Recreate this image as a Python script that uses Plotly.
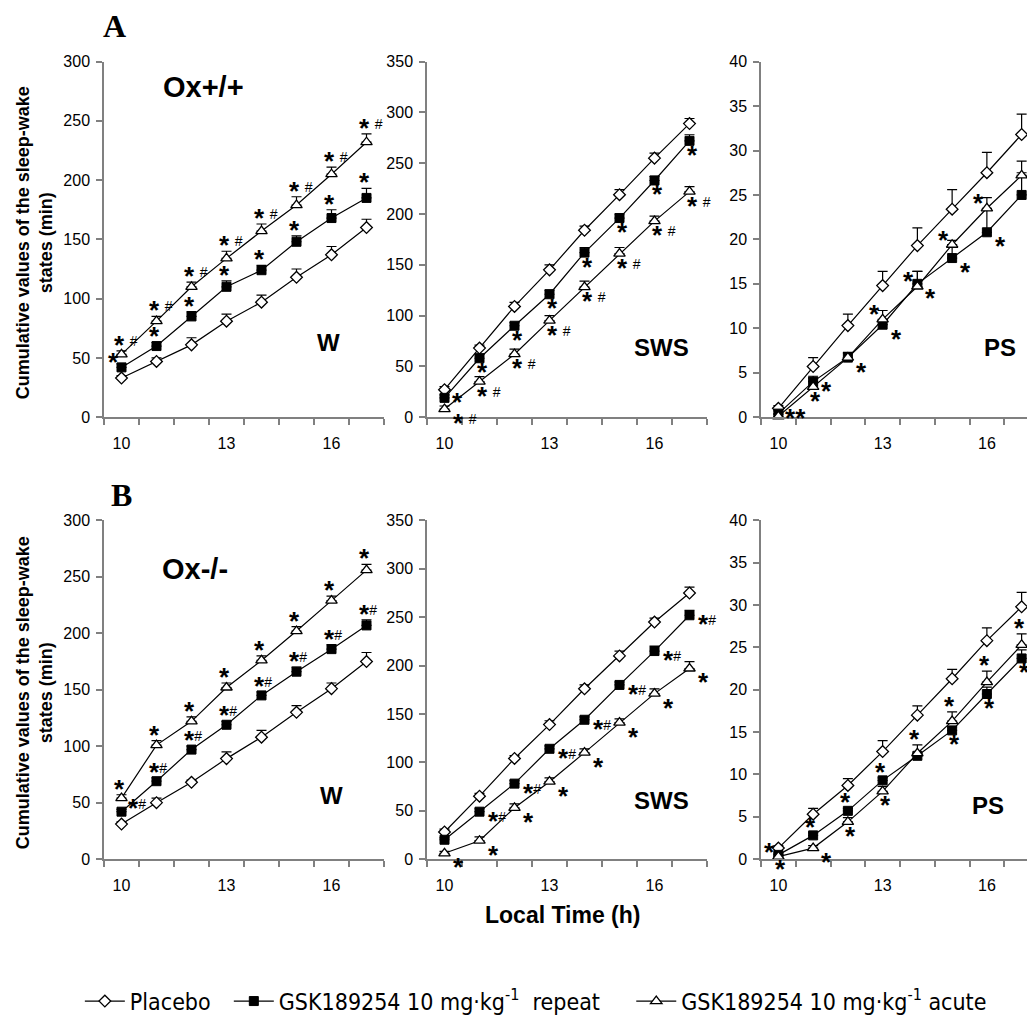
import plotly.graph_objects as go

# x categories (local time, h)
hours = [10, 11, 12, 13, 14, 15, 16, 17]
x_labels = [10, 13, 16]

# ---- A : Ox+/+ ----
a_w_placebo = [33, 47, 61, 81, 97, 118, 137, 160]
a_w_placebo_err = [2, 3, 6, 6, 6, 7, 7, 7]
a_w_repeat = [42, 60, 85, 110, 124, 148, 168, 185]
a_w_repeat_err = [3, 3, 4, 5, 4, 5, 7, 8]
a_w_acute = [53, 81, 110, 134, 157, 179, 205, 232]
a_w_acute_err = [3, 4, 4, 6, 6, 7, 6, 7]

a_sws_placebo = [27, 68, 109, 145, 184, 219, 255, 289]
a_sws_placebo_err = [3, 3, 4, 5, 4, 5, 5, 5]
a_sws_repeat = [19, 58, 90, 121, 162, 196, 233, 272]
a_sws_repeat_err = [3, 4, 3, 4, 5, 4, 4, 6]
a_sws_acute = [8, 35, 62, 95, 128, 161, 193, 222]
a_sws_acute_err = [3, 5, 5, 5, 6, 6, 5, 5]

a_ps_placebo = [1.0, 5.7, 10.3, 14.8, 19.3, 23.4, 27.5, 31.8]
a_ps_placebo_err = [0.3, 1.0, 1.3, 1.6, 2.0, 2.2, 2.3, 2.3]
a_ps_repeat = [0.4, 4.0, 6.7, 10.4, 15.0, 17.9, 20.8, 25.0]
a_ps_repeat_err = [0.3, 0.6, 0.6, 0.5, 1.4, 1.5, 2.6, 2.5]
a_ps_acute = [0.1, 3.4, 6.7, 11.0, 14.7, 19.4, 23.5, 27.2]
a_ps_acute_err = [0.2, 1.0, 0.5, 1.0, 1.7, 0.5, 1.2, 1.6]

# ---- B : Ox-/- ----
b_w_placebo = [31, 50, 68, 89, 108, 130, 151, 175]
b_w_placebo_err = [2, 4, 2, 6, 6, 6, 5, 8]
b_w_repeat = [42, 69, 97, 119, 145, 166, 186, 207]
b_w_repeat_err = [2, 3, 3, 3, 3, 4, 4, 5]
b_w_acute = [54, 101, 122, 152, 176, 202, 229, 256]
b_w_acute_err = [3, 4, 4, 4, 4, 4, 4, 5]

b_sws_placebo = [28, 65, 104, 139, 176, 210, 245, 275]
b_sws_placebo_err = [3, 3, 3, 4, 4, 5, 4, 6]
b_sws_repeat = [20, 49, 78, 114, 144, 180, 215, 252]
b_sws_repeat_err = [2, 3, 3, 3, 3, 3, 5, 5]
b_sws_acute = [6, 19, 53, 80, 110, 141, 171, 197]
b_sws_acute_err = [2, 4, 4, 4, 4, 4, 5, 7]

b_ps_placebo = [1.3, 5.3, 8.7, 12.7, 17.0, 21.3, 25.8, 29.8]
b_ps_placebo_err = [0.3, 0.7, 0.8, 1.3, 1.1, 1.1, 1.5, 1.7]
b_ps_repeat = [0.5, 2.8, 5.7, 9.3, 12.2, 15.2, 19.5, 23.7]
b_ps_repeat_err = [0.2, 0.3, 0.3, 0.3, 0.3, 0.4, 0.8, 1.0]
b_ps_acute = [0.3, 1.3, 4.4, 8.0, 12.5, 16.3, 20.9, 25.3]
b_ps_acute_err = [0.2, 0.3, 0.5, 0.6, 1.0, 1.1, 1.3, 1.3]

# significance marks (* vs placebo, # vs the other GSK group)
STAR = "<span style='font-size:26px'><b>*</b></span>"
SH = STAR + " <sup>#</sup>"
SB = STAR + "<sup>#</sup>"
S = STAR
SS = STAR + STAR
a_w_repeat_sig = [S] * 8
a_w_acute_sig = [SH] * 8
a_sws_repeat_sig = [S] * 8
a_sws_acute_sig = [SH] * 8
a_ps_repeat_sig = [SS, S, S, S, S, S, S, S]
a_ps_acute_sig = ["", S, "", S, S, S, S, S]
b_w_repeat_sig = [SB] * 8
b_w_acute_sig = [S] * 8
b_sws_repeat_sig = [""] + [SB] * 7
b_sws_acute_sig = [S] * 8
b_ps_repeat_sig = [S, S, S, S, "", S, S, S]
b_ps_acute_sig = [S] * 8

names = ["Placebo  ",
         "GSK189254 10 mg·kg<sup>-1</sup>  repeat    ",
         "GSK189254 10 mg·kg<sup>-1</sup> acute"]

W, H = 1035, 1015
FONT = "Liberation Sans, Arial, sans-serif"
AXC = "#808080"


def px(x):
    return x / W


def py(y):
    return 1 - y / H


# panel layout (pixel boxes measured on the original figure)
x_dom = [(96, 376), (419, 699), (753, 1031)]
y_dom = [(54, 412), (516, 857)]
y_top = [300, 350, 40]
y_step = [50, 50, 5]

panels = [
    (a_w_placebo, a_w_placebo_err, a_w_repeat, a_w_repeat_err, a_w_acute, a_w_acute_err),
    (a_sws_placebo, a_sws_placebo_err, a_sws_repeat, a_sws_repeat_err, a_sws_acute, a_sws_acute_err),
    (a_ps_placebo, a_ps_placebo_err, a_ps_repeat, a_ps_repeat_err, a_ps_acute, a_ps_acute_err),
    (b_w_placebo, b_w_placebo_err, b_w_repeat, b_w_repeat_err, b_w_acute, b_w_acute_err),
    (b_sws_placebo, b_sws_placebo_err, b_sws_repeat, b_sws_repeat_err, b_sws_acute, b_sws_acute_err),
    (b_ps_placebo, b_ps_placebo_err, b_ps_repeat, b_ps_repeat_err, b_ps_acute, b_ps_acute_err),
]

markers = [
    dict(symbol="diamond", size=9, color="white", line=dict(color="black", width=1.3)),
    dict(symbol="square", size=9, color="black", line=dict(color="black", width=1)),
    dict(symbol="triangle-up", size=10, color="white", line=dict(color="black", width=1.3)),
]

fig = go.Figure()

for p, vals in enumerate(panels):
    n = p + 1
    for s in range(3):
        y = vals[2 * s]
        e = vals[2 * s + 1]
        fig.add_trace(go.Scatter(
            x=hours, y=y, mode="lines+markers", name=names[s],
            line=dict(color="black", width=1.2),
            marker=markers[s],
            error_y=dict(type="data", symmetric=False, array=e, arrayminus=[0] * len(e),
                         color="black", thickness=1.2, width=5),
            cliponaxis=False,
            showlegend=(p == 0),
            xaxis="x" if n == 1 else f"x{n}", yaxis="y" if n == 1 else f"y{n}",
        ))

    col, row = p % 3, p // 3
    xa = dict(domain=[px(x_dom[col][0]), px(x_dom[col][1])],
              anchor="y" if n == 1 else f"y{n}",
              range=[9.5, 17.5], tickmode="array", tickvals=x_labels, ticks="",
              ticklabelstandoff=11,
              minor=dict(tickmode="array", tickvals=[h - 0.5 for h in hours] + [17.5],
                         ticks="outside", ticklen=6, tickcolor=AXC, tickwidth=1.5),
              showline=True, linecolor=AXC, linewidth=1.5, showgrid=False, zeroline=False,
              tickfont=dict(family=FONT, size=16, color="black"), automargin=False)
    ya = dict(domain=[py(y_dom[row][1]), py(y_dom[row][0])],
              anchor="x" if n == 1 else f"x{n}",
              range=[0, y_top[col]], dtick=y_step[col], tick0=0,
              ticks="outside", ticklen=6, tickcolor=AXC, tickwidth=1.5,
              ticklabelstandoff=3,
              showline=True, linecolor=AXC, linewidth=1.5, showgrid=False, zeroline=False,
              tickfont=dict(family=FONT, size=16, color="black"), automargin=False)
    fig.layout["xaxis" if n == 1 else f"xaxis{n}"] = xa
    fig.layout["yaxis" if n == 1 else f"yaxis{n}"] = ya

# star placement: (dx, dy) of the star centre in px from the anchor
# (anchor = top of the error bar when the flag is True, else the point itself)
PLACE = {
    "a": (-4, 8, True),
    "b": (1, -12, False),
    "r": (12, -7, False),
    "rr": (11, -2, False),
    "br": (12, -12, False),
    "l": (-10, 7, False),
    "ru": (10, 6, False),
}
stars = [
    (1, a_w_repeat, a_w_repeat_err, a_w_repeat_sig, ["l"] + ["a"] * 7),
    (1, a_w_acute, a_w_acute_err, a_w_acute_sig, ["a"] * 8),
    (2, a_sws_repeat, a_sws_repeat_err, a_sws_repeat_sig, ["rr"] + ["b"] * 7),
    (2, a_sws_acute, a_sws_acute_err, a_sws_acute_sig, ["br"] + ["b"] * 7),
    (3, a_ps_repeat, a_ps_repeat_err, a_ps_repeat_sig, ["rr", "r"] + ["br"] * 6),
    (3, a_ps_acute, a_ps_acute_err, a_ps_acute_sig, ["b", "b", "b", "l", "l", "l", "l", "rr"]),
    (4, b_w_repeat, b_w_repeat_err, b_w_repeat_sig, ["ru"] + ["a"] * 7),
    (4, b_w_acute, b_w_acute_err, b_w_acute_sig, ["a"] * 8),
    (5, b_sws_repeat, b_sws_repeat_err, b_sws_repeat_sig, ["r"] * 8),
    (5, b_sws_acute, b_sws_acute_err, b_sws_acute_sig, ["br"] * 8),
    (6, b_ps_repeat, b_ps_repeat_err, b_ps_repeat_sig, ["b", "a", "a", "a", "a", "b", "b", "b"]),
    (6, b_ps_acute, b_ps_acute_err, b_ps_acute_sig, ["l", "br", "b", "b", "a", "a", "a", "a"]),
]

annotations = []
for n, y, e, sig, where in stars:
    for i, t in enumerate(sig):
        if not t:
            continue
        dx, dy, top = PLACE[where[i]]
        annotations.append(dict(
            x=hours[i], y=y[i] + (e[i] if top else 0),
            xref="x" if n == 1 else f"x{n}", yref="y" if n == 1 else f"y{n}",
            text=t, showarrow=False, xanchor="left", yanchor="middle",
            xshift=dx - 5, yshift=dy - 2, borderpad=0,
            font=dict(family=FONT, size=20, color="black"),
        ))


def label(text, x, y, size, family=FONT, angle=0):
    annotations.append(dict(x=px(x), y=py(y), xref="paper", yref="paper", text=text,
                            showarrow=False, xanchor="center", yanchor="middle",
                            textangle=angle, font=dict(family=family, size=size, color="black")))


label("<b>A</b>", 106, 18, 32, "Liberation Serif, Times New Roman, serif")
label("<b>B</b>", 113, 490, 32, "Liberation Serif, Times New Roman, serif")
label("<b>Ox+/+</b>", 195, 80, 29)
label("<b>Ox-/-</b>", 187, 565, 29)
label("<b>W</b>", 320, 337, 24)
label("<b>SWS</b>", 653, 342, 24)
label("<b>PS</b>", 992, 342, 24)
label("<b>W</b>", 323, 793, 24)
label("<b>SWS</b>", 653, 798, 24)
label("<b>PS</b>", 980, 803, 24)
label("<b>Local Time (h)</b>", 555, 913, 23)
for yc in (237, 690):
    label("<b>Cumulative values of the sleep-wake<br>states (min)</b>", 26, yc, 18, angle=-90)

fig.update_layout(
    width=W, height=H,
    margin=dict(l=0, r=0, t=0, b=0),
    paper_bgcolor="white", plot_bgcolor="white",
    font=dict(family=FONT, color="black"),
    annotations=annotations,
    showlegend=True,
    legend=dict(orientation="h", x=0.51, xanchor="center", y=py(1000), yanchor="middle",
                font=dict(family="DejaVu Sans Condensed, Liberation Sans Narrow, Liberation Sans",
                          size=23),
                itemwidth=40, bgcolor="rgba(0,0,0,0)"),
)

fig.write_html("out.html")
